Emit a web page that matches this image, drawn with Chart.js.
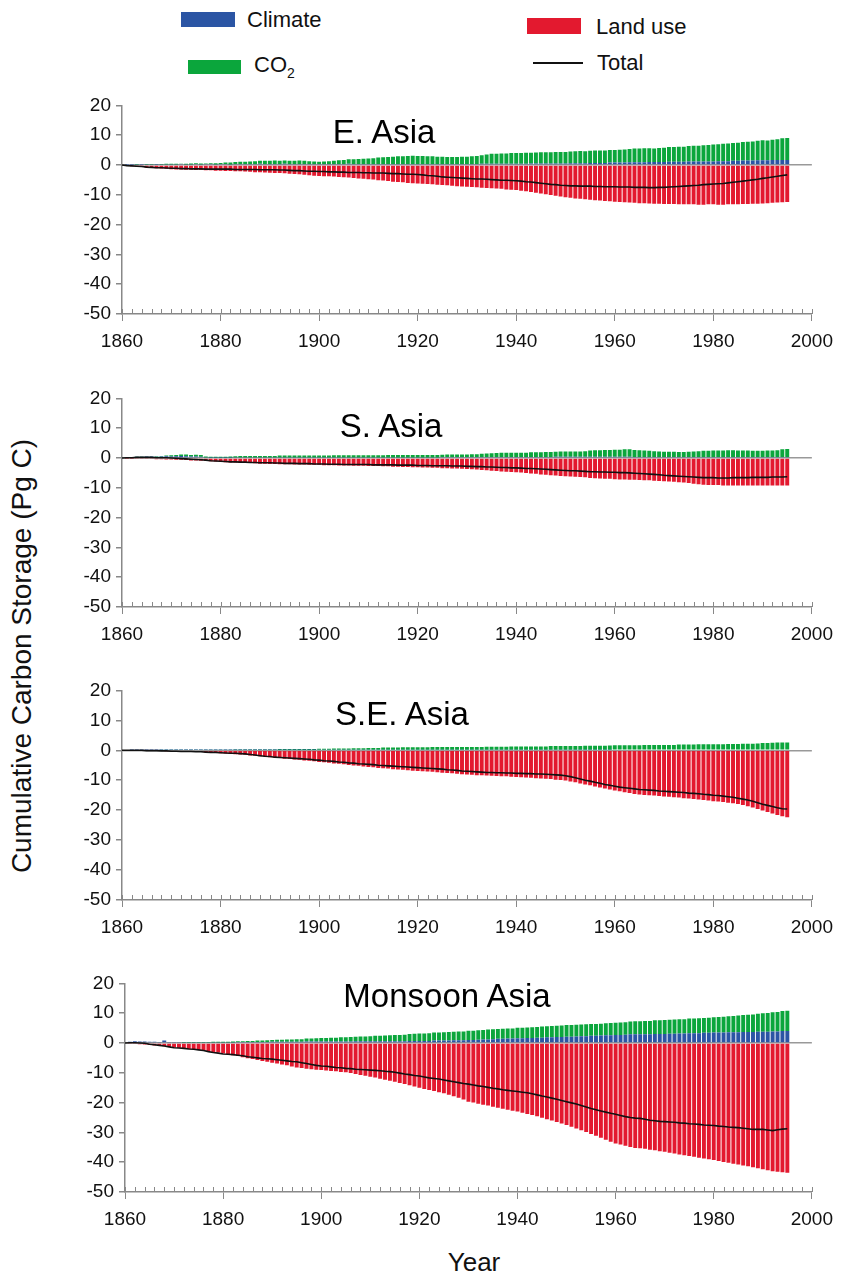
<!DOCTYPE html>
<html>
<head>
<meta charset="utf-8">
<script src="https://cdn.jsdelivr.net/npm/chart.js@4.4.1/dist/chart.umd.min.js"></script>
<style>
  body { margin: 0; background: #fff; font-family: 'Liberation Sans', Arial, Helvetica, sans-serif; }
  #page { position: relative; width: 842px; height: 1273px; overflow: hidden; background: #fff; }
  canvas { position: absolute; left: 0; }
  .lab { position: absolute; white-space: nowrap; color: #111; line-height: 1; }
  .leg { font-size: 22px; transform: translateY(-50%); }
  .title { font-size: 33px; transform: translate(-50%, -50%); color: #000; }
  .sw { position: absolute; }
</style>
</head>
<body>
<div id="page">
  <div class="sw" style="left:181px;top:12px;width:54px;height:15px;background:#2b55a4"></div>
  <div class="lab leg" style="left:247px;top:20px">Climate</div>
  <div class="sw" style="left:188px;top:60px;width:53px;height:14px;background:#0ba63c"></div>
  <div class="lab leg" style="left:254px;top:67px">CO<sub style="font-size:14px;vertical-align:-6px">2</sub></div>
  <div class="sw" style="left:527px;top:18px;width:54px;height:16px;background:#e3192f"></div>
  <div class="lab leg" style="left:596px;top:27px">Land use</div>
  <div class="sw" style="left:533px;top:62px;width:50px;height:1.5px;background:#111"></div>
  <div class="lab leg" style="left:597px;top:63px">Total</div>
  <div class="lab" style="left:22px;top:656px;font-size:28px;transform:translate(-50%,-50%) rotate(-90deg)">Cumulative Carbon Storage (Pg C)</div>
  <div class="lab" style="left:474px;top:1262px;font-size:26px;transform:translate(-50%,-50%)">Year</div>
</div>
<script>
// years 1860..1995, one bar per year
const years = Array.from({length: 136}, (_, i) => 1860 + i);
const xTickLabels = [1860, 1880, 1900, 1920, 1940, 1960, 1980, 2000];
const yTickLabels = [20, 10, 0, -10, -20, -30, -40, -50];

// E. Asia
const eAsiaClimate = [0,0.1,0.1,0.2,0.1,0.2,0.2,0.1,0.2,0.2,
  0.2,0.2,0.3,0.2,0.2,0.3,0.2,0.3,0.3,0.2,
  0.3,0.3,0.2,0.3,0.3,0.3,0.3,0.3,0.4,0.3,
  0.3,0.3,0.3,0.4,0.3,0.3,0.3,0.3,0.3,0.3,
  0.3,0.3,0.3,0.3,0.3,0.3,0.4,0.3,0.3,0.3,
  0.3,0.3,0.3,0.3,0.3,0.3,0.3,0.3,0.3,0.3,
  0.3,0.3,0.3,0.3,0.3,0.3,0.3,0.3,0.3,0.3,
  0.3,0.3,0.3,0.4,0.4,0.4,0.4,0.4,0.4,0.4,
  0.4,0.4,0.4,0.5,0.5,0.5,0.5,0.5,0.5,0.5,
  0.5,0.6,0.6,0.6,0.6,0.7,0.7,0.7,0.7,0.8,
  0.8,0.8,0.8,0.9,0.9,0.9,0.9,1.0,1.0,1.0,
  1.0,1.1,1.1,1.1,1.1,1.2,1.2,1.2,1.2,1.2,
  1.2,1.3,1.3,1.3,1.4,1.4,1.5,1.5,1.5,1.6,
  1.6,1.6,1.7,1.7,1.7,1.7];
const eAsiaCO2 = [0,0,0,0.1,0,0.1,0.1,0.1,0.1,0.2,
  0.2,0.2,0.1,0.2,0.3,0.3,0.3,0.2,0.3,0.4,
  0.4,0.5,0.6,0.7,0.8,0.8,0.9,1.0,1.0,1.1,
  1.1,1.2,1.1,1.1,1.1,1.1,1.2,1.1,1.0,0.9,
  0.8,0.9,1.0,1.1,1.3,1.4,1.5,1.6,1.7,1.8,
  1.9,2.0,2.2,2.3,2.4,2.5,2.6,2.6,2.7,2.8,
  2.7,2.7,2.6,2.6,2.5,2.5,2.4,2.4,2.4,2.5,
  2.5,2.6,2.7,2.9,3.1,3.4,3.4,3.5,3.5,3.6,
  3.6,3.6,3.7,3.6,3.7,3.8,3.8,3.8,3.9,3.9,
  3.9,3.9,4.0,4.1,4.0,4.1,4.2,4.2,4.2,4.2,
  4.2,4.3,4.4,4.5,4.6,4.6,4.7,4.6,4.5,4.7,
  4.8,4.9,4.9,5.0,5.0,5.2,5.3,5.3,5.4,5.5,
  5.7,5.7,5.8,5.9,6.0,6.1,6.2,6.3,6.4,6.5,
  6.7,6.6,6.8,6.9,7.3,7.4];
const eAsiaLand = [0,-0.3,-0.4,-0.6,-0.7,-0.9,-1.0,-1.1,-1.2,-1.3,
  -1.4,-1.5,-1.5,-1.6,-1.6,-1.7,-1.7,-1.8,-1.8,-1.9,
  -1.9,-2.0,-2.0,-2.1,-2.1,-2.2,-2.3,-2.4,-2.4,-2.5,
  -2.6,-2.7,-2.7,-2.8,-2.9,-3.0,-3.1,-3.3,-3.4,-3.6,
  -3.7,-3.8,-3.8,-3.9,-4.0,-4.1,-4.2,-4.4,-4.5,-4.6,
  -4.8,-4.9,-5.1,-5.2,-5.4,-5.6,-5.7,-5.8,-6.0,-6.1,
  -6.2,-6.3,-6.4,-6.5,-6.6,-6.7,-6.8,-7.0,-7.1,-7.2,
  -7.3,-7.4,-7.5,-7.6,-7.7,-7.8,-7.9,-8.0,-8.2,-8.3,
  -8.4,-8.6,-8.8,-9.1,-9.3,-9.6,-9.8,-10.1,-10.3,-10.6,
  -10.8,-11.0,-11.2,-11.3,-11.5,-11.7,-11.8,-11.9,-12.1,-12.2,
  -12.3,-12.4,-12.5,-12.6,-12.7,-12.8,-12.8,-12.9,-13.0,-13.0,
  -13.1,-13.1,-13.1,-13.2,-13.2,-13.2,-13.2,-13.3,-13.3,-13.2,
  -13.2,-13.3,-13.3,-13.2,-13.2,-13.2,-13.1,-13.1,-13.0,-13.0,
  -12.9,-12.8,-12.7,-12.6,-12.5,-12.4];
const eAsiaTotal = [0,-0.2,-0.3,-0.4,-0.5,-0.7,-0.8,-0.9,-0.9,-1.0,
  -1.1,-1.1,-1.2,-1.2,-1.3,-1.3,-1.3,-1.4,-1.4,-1.4,
  -1.4,-1.4,-1.4,-1.5,-1.5,-1.5,-1.5,-1.5,-1.6,-1.6,
  -1.6,-1.6,-1.7,-1.7,-1.8,-1.9,-1.9,-2.0,-2.1,-2.1,
  -2.2,-2.2,-2.3,-2.3,-2.4,-2.4,-2.5,-2.5,-2.5,-2.6,
  -2.6,-2.7,-2.7,-2.7,-2.8,-2.9,-2.9,-3.0,-3.1,-3.1,
  -3.2,-3.3,-3.5,-3.6,-3.8,-4.0,-4.1,-4.2,-4.3,-4.4,
  -4.5,-4.6,-4.7,-4.7,-4.8,-4.9,-5.0,-5.1,-5.1,-5.2,
  -5.3,-5.4,-5.6,-5.7,-5.9,-6.1,-6.3,-6.5,-6.6,-6.8,
  -6.9,-7.0,-7.0,-7.1,-7.1,-7.1,-7.2,-7.2,-7.3,-7.3,
  -7.3,-7.4,-7.4,-7.4,-7.5,-7.5,-7.5,-7.6,-7.6,-7.5,
  -7.5,-7.4,-7.3,-7.2,-7.1,-7.0,-6.9,-6.8,-6.6,-6.5,
  -6.4,-6.3,-6.2,-6.0,-5.8,-5.6,-5.4,-5.2,-5.0,-4.8,
  -4.5,-4.3,-4.0,-3.8,-3.5,-3.3];

// S. Asia
const sAsiaClimate = [0,0.2,0.3,0.4,0.4,0.5,0.5,0.4,0.5,0.6,
  0.5,0.6,0.7,0.6,0.5,0.5,0.4,0.2,0.1,0.1,
  0.1,0.1,0.1,0.2,0.2,0.2,0.2,0.2,0.2,0.2,
  0.2,0.2,0.2,0.2,0.2,0.2,0.2,0.2,0.2,0.2,
  0.2,0.2,0.2,0.2,0.2,0.2,0.2,0.2,0.2,0.2,
  0.2,0.2,0.2,0.2,0.2,0.2,0.2,0.2,0.2,0.2,
  0.2,0.2,0.2,0.2,0.2,0.3,0.3,0.3,0.3,0.3,
  0.3,0.3,0.3,0.3,0.3,0.3,0.3,0.3,0.3,0.3,
  0.3,0.3,0.3,0.3,0.3,0.3,0.3,0.3,0.4,0.4,
  0.4,0.4,0.4,0.4,0.4,0.4,0.4,0.4,0.4,0.4,
  0.4,0.4,0.4,0.4,0.3,0.3,0.3,0.3,0.3,0.3,
  0.3,0.3,0.3,0.3,0.3,0.3,0.3,0.3,0.3,0.3,
  0.3,0.3,0.3,0.3,0.3,0.3,0.3,0.3,0.3,0.3,
  0.3,0.3,0.3,0.3,0.3,0.3];
const sAsiaCO2 = [0,0,0,0.1,0.1,0.1,0.1,0.2,0.2,0.2,
  0.4,0.4,0.5,0.6,0.5,0.6,0.6,0.3,0.3,0.3,
  0.3,0.3,0.4,0.4,0.5,0.5,0.5,0.5,0.5,0.5,
  0.5,0.5,0.6,0.6,0.6,0.6,0.6,0.6,0.6,0.6,
  0.6,0.6,0.6,0.7,0.7,0.7,0.7,0.7,0.7,0.7,
  0.7,0.7,0.7,0.7,0.8,0.8,0.8,0.8,0.8,0.8,
  0.8,0.8,0.8,0.8,0.8,0.8,0.9,0.9,0.9,0.9,
  0.9,1.0,1.0,1.1,1.2,1.3,1.4,1.5,1.5,1.5,
  1.5,1.5,1.5,1.6,1.6,1.6,1.7,1.7,1.7,1.8,
  1.8,1.8,1.8,1.8,1.9,2.1,2.2,2.2,2.3,2.3,
  2.4,2.4,2.5,2.5,2.4,2.3,2.2,2.1,2.0,1.9,
  1.8,1.8,1.8,1.7,1.7,1.8,1.9,2.0,2.1,2.1,
  2.2,2.2,2.2,2.3,2.3,2.2,2.2,2.2,2.1,2.1,
  2.1,2.2,2.2,2.3,2.6,2.7];
const sAsiaLand = [0,-0.1,-0.1,-0.2,-0.2,-0.3,-0.3,-0.4,-0.4,-0.5,
  -0.5,-0.6,-0.6,-0.7,-0.8,-0.8,-0.9,-1.0,-1.1,-1.2,
  -1.3,-1.4,-1.5,-1.5,-1.6,-1.7,-1.7,-1.8,-1.9,-1.9,
  -2.0,-2.0,-2.1,-2.1,-2.1,-2.2,-2.2,-2.2,-2.3,-2.3,
  -2.3,-2.4,-2.4,-2.4,-2.5,-2.5,-2.5,-2.6,-2.6,-2.6,
  -2.7,-2.7,-2.7,-2.8,-2.8,-2.9,-2.9,-3.0,-3.0,-3.1,
  -3.1,-3.2,-3.2,-3.3,-3.3,-3.4,-3.4,-3.5,-3.5,-3.6,
  -3.7,-3.8,-3.9,-4.0,-4.1,-4.3,-4.4,-4.5,-4.6,-4.7,
  -4.8,-4.9,-5.0,-5.2,-5.3,-5.5,-5.6,-5.8,-5.9,-6.0,
  -6.1,-6.2,-6.3,-6.4,-6.5,-6.7,-6.8,-6.9,-7.0,-7.0,
  -7.1,-7.2,-7.2,-7.3,-7.3,-7.4,-7.5,-7.5,-7.6,-7.7,
  -7.8,-7.9,-8.0,-8.1,-8.2,-8.4,-8.6,-8.8,-9.0,-9.1,
  -9.1,-9.1,-9.2,-9.2,-9.2,-9.2,-9.2,-9.2,-9.2,-9.2,
  -9.2,-9.2,-9.2,-9.2,-9.2,-9.2];
const sAsiaTotal = [0,0.1,0.1,0.2,0.2,0.2,0.2,0.1,0.1,0.1,
  0.0,-0.1,-0.2,-0.3,-0.4,-0.5,-0.6,-0.7,-0.9,-1.0,
  -1.1,-1.2,-1.3,-1.3,-1.4,-1.4,-1.5,-1.5,-1.6,-1.6,
  -1.6,-1.7,-1.7,-1.8,-1.8,-1.8,-1.9,-1.9,-1.9,-2.0,
  -2.0,-2.0,-2.1,-2.1,-2.1,-2.2,-2.2,-2.2,-2.2,-2.2,
  -2.2,-2.3,-2.3,-2.3,-2.3,-2.3,-2.4,-2.4,-2.4,-2.4,
  -2.5,-2.5,-2.5,-2.6,-2.6,-2.6,-2.6,-2.7,-2.7,-2.7,
  -2.8,-2.8,-2.9,-2.9,-3.0,-3.0,-3.1,-3.2,-3.2,-3.3,
  -3.3,-3.4,-3.5,-3.5,-3.6,-3.7,-3.8,-3.9,-4.0,-4.1,
  -4.2,-4.3,-4.3,-4.4,-4.5,-4.6,-4.6,-4.7,-4.7,-4.8,
  -4.8,-4.9,-4.9,-5.0,-5.1,-5.2,-5.3,-5.4,-5.5,-5.6,
  -5.8,-5.9,-6.0,-6.1,-6.2,-6.3,-6.4,-6.5,-6.6,-6.6,
  -6.6,-6.7,-6.7,-6.7,-6.6,-6.6,-6.6,-6.6,-6.5,-6.5,
  -6.5,-6.5,-6.4,-6.4,-6.4,-6.3];

// S.E. Asia
const seAsiaClimate = [0,0,0.1,0.1,0.1,0.1,0.1,0.1,0.1,0.1,
  0.1,0.1,0.1,0.1,0.1,0.1,0.1,0.1,0.1,0.1,
  0.1,0.1,0.1,0.1,0.1,0.1,0.1,0.1,0.1,0.1,
  0.1,0.1,0.1,0.1,0.1,0.1,0.1,0.1,0.1,0.1,
  0.2,0.2,0.2,0.2,0.2,0.2,0.2,0.2,0.2,0.2,
  0.2,0.2,0.2,0.2,0.2,0.2,0.2,0.2,0.2,0.2,
  0.2,0.2,0.2,0.2,0.2,0.2,0.2,0.2,0.2,0.2,
  0.2,0.2,0.2,0.2,0.2,0.2,0.2,0.2,0.2,0.2,
  0.2,0.2,0.2,0.2,0.2,0.2,0.2,0.2,0.2,0.2,
  0.2,0.2,0.2,0.2,0.2,0.2,0.2,0.2,0.2,0.2,
  0.3,0.3,0.3,0.3,0.3,0.3,0.3,0.3,0.3,0.3,
  0.3,0.3,0.3,0.3,0.3,0.3,0.3,0.3,0.3,0.3,
  0.3,0.3,0.3,0.3,0.3,0.3,0.3,0.3,0.3,0.3,
  0.3,0.3,0.3,0.3,0.3,0.3];
const seAsiaCO2 = [0,0,0,0,0,0,0,0,0.1,0.1,
  0.1,0.1,0.1,0.1,0.1,0.1,0.1,0.1,0.1,0.1,
  0.1,0.1,0.1,0.2,0.2,0.2,0.2,0.2,0.2,0.2,
  0.2,0.2,0.3,0.3,0.3,0.3,0.3,0.3,0.3,0.3,
  0.3,0.3,0.3,0.4,0.4,0.4,0.4,0.5,0.5,0.5,
  0.6,0.6,0.6,0.7,0.7,0.7,0.7,0.8,0.8,0.8,
  0.8,0.8,0.8,0.9,0.9,0.9,0.9,0.9,0.9,0.9,
  0.9,0.9,0.9,0.9,1.0,1.0,1.0,1.0,1.0,1.1,
  1.1,1.1,1.1,1.1,1.1,1.1,1.1,1.2,1.2,1.2,
  1.2,1.2,1.2,1.2,1.3,1.3,1.3,1.3,1.3,1.4,
  1.4,1.4,1.4,1.4,1.4,1.4,1.5,1.5,1.5,1.5,
  1.5,1.5,1.5,1.6,1.6,1.6,1.6,1.7,1.7,1.7,
  1.7,1.7,1.7,1.8,1.8,1.8,1.9,1.9,1.9,2.0,
  2.1,2.1,2.2,2.3,2.3,2.3];
const seAsiaLand = [0,0,0,-0.1,-0.1,-0.1,-0.1,-0.2,-0.2,-0.3,
  -0.3,-0.4,-0.4,-0.5,-0.5,-0.6,-0.6,-0.7,-0.8,-0.9,
  -1.0,-1.1,-1.2,-1.3,-1.4,-1.5,-1.7,-1.8,-2.0,-2.1,
  -2.3,-2.5,-2.6,-2.8,-2.9,-3.1,-3.2,-3.4,-3.5,-3.7,
  -3.9,-4.0,-4.2,-4.4,-4.5,-4.7,-4.9,-5.1,-5.2,-5.4,
  -5.6,-5.7,-5.9,-6.0,-6.1,-6.3,-6.4,-6.5,-6.7,-6.8,
  -6.9,-7.0,-7.1,-7.2,-7.3,-7.5,-7.6,-7.7,-7.8,-8.0,
  -8.1,-8.2,-8.3,-8.3,-8.4,-8.5,-8.6,-8.7,-8.7,-8.8,
  -8.9,-9.0,-9.1,-9.2,-9.3,-9.4,-9.5,-9.6,-9.8,-9.9,
  -10.1,-10.4,-10.7,-11.1,-11.4,-11.7,-12.1,-12.4,-12.8,-13.1,
  -13.4,-13.7,-14.0,-14.3,-14.6,-14.8,-14.9,-15.0,-15.1,-15.3,
  -15.4,-15.5,-15.7,-15.8,-16.0,-16.1,-16.3,-16.4,-16.6,-16.8,
  -17.0,-17.1,-17.3,-17.5,-17.7,-17.9,-18.3,-18.7,-19.1,-19.6,
  -20.1,-20.6,-21.1,-21.6,-22.0,-22.4];
const seAsiaTotal = [0,0,0,0,0,-0.1,-0.1,-0.1,-0.2,-0.2,
  -0.3,-0.3,-0.4,-0.4,-0.4,-0.5,-0.5,-0.6,-0.7,-0.7,
  -0.8,-0.9,-1.0,-1.0,-1.1,-1.2,-1.4,-1.6,-1.8,-2.0,
  -2.1,-2.3,-2.4,-2.5,-2.6,-2.7,-2.8,-2.9,-3.0,-3.2,
  -3.3,-3.5,-3.6,-3.7,-3.9,-4.0,-4.2,-4.3,-4.5,-4.6,
  -4.7,-4.8,-5.0,-5.1,-5.2,-5.3,-5.4,-5.5,-5.6,-5.7,
  -5.8,-5.9,-6.0,-6.1,-6.2,-6.3,-6.5,-6.6,-6.7,-6.9,
  -7.0,-7.1,-7.2,-7.3,-7.4,-7.4,-7.5,-7.5,-7.6,-7.6,
  -7.7,-7.7,-7.8,-7.8,-7.9,-7.9,-8.0,-8.1,-8.2,-8.3,
  -8.5,-8.8,-9.2,-9.6,-10.0,-10.3,-10.7,-11.0,-11.4,-11.7,
  -12.0,-12.3,-12.5,-12.7,-12.9,-13.1,-13.2,-13.3,-13.4,-13.6,
  -13.7,-13.8,-13.9,-14.0,-14.1,-14.3,-14.4,-14.5,-14.7,-14.8,
  -15.0,-15.1,-15.3,-15.5,-15.7,-16.0,-16.3,-16.6,-17.0,-17.5,
  -18.0,-18.4,-18.8,-19.2,-19.5,-19.6];

// Monsoon Asia
const mAsiaClimate = [0,0.4,0.6,0.5,0.5,0.4,0.4,0.3,0.8,0.2,
  0.2,0.2,0.2,0.2,0.2,0.2,0.2,0.2,0.2,0.2,
  0.2,0.2,0.2,0.3,0.3,0.3,0.3,0.3,0.3,0.3,
  0.4,0.4,0.4,0.4,0.4,0.4,0.4,0.5,0.5,0.5,
  0.5,0.5,0.5,0.5,0.5,0.5,0.5,0.6,0.6,0.6,
  0.6,0.6,0.6,0.6,0.6,0.6,0.6,0.6,0.7,0.7,
  0.7,0.7,0.7,0.8,0.8,0.8,0.8,0.9,0.9,0.9,
  1.0,1.0,1.1,1.2,1.2,1.3,1.4,1.4,1.5,1.5,
  1.6,1.6,1.7,1.7,1.8,1.8,1.9,1.9,2.0,2.0,
  2.1,2.1,2.2,2.3,2.3,2.4,2.4,2.5,2.6,2.6,
  2.7,2.7,2.8,2.9,2.9,2.9,2.9,2.9,3.0,3.0,
  3.0,3.1,3.1,3.2,3.2,3.3,3.3,3.3,3.4,3.4,
  3.5,3.5,3.5,3.6,3.6,3.6,3.7,3.7,3.7,3.8,
  3.8,3.8,3.9,3.9,4.0,4.0];
const mAsiaCO2 = [0,0,0,0,0,0,0,0,0,0,
  0,0,0.1,0.1,0.1,0.1,0.1,0.1,0.2,0.2,
  0.2,0.2,0.3,0.3,0.3,0.4,0.4,0.5,0.5,0.6,
  0.6,0.7,0.7,0.8,0.8,0.9,0.9,1.0,1.0,1.1,
  1.2,1.2,1.3,1.3,1.4,1.4,1.5,1.5,1.6,1.6,
  1.7,1.8,1.8,1.9,2.0,2.1,2.1,2.2,2.3,2.4,
  2.5,2.5,2.6,2.7,2.7,2.8,2.9,2.9,3.0,3.0,
  3.1,3.1,3.2,3.2,3.3,3.3,3.3,3.4,3.4,3.4,
  3.5,3.5,3.5,3.6,3.6,3.7,3.7,3.8,3.8,3.9,
  3.9,3.9,3.9,3.9,4.0,4.0,4.0,4.0,4.0,4.1,
  4.1,4.2,4.2,4.3,4.4,4.4,4.5,4.5,4.6,4.6,
  4.7,4.7,4.8,4.8,4.8,4.9,4.9,5.0,5.0,5.1,
  5.1,5.2,5.3,5.4,5.5,5.6,5.7,5.8,5.9,6.0,
  6.2,6.3,6.4,6.5,6.7,6.8];
const mAsiaLand = [0,-0.2,-0.3,-0.4,-0.5,-0.7,-0.8,-0.9,-1.1,-1.3,
  -1.5,-1.6,-1.8,-2.0,-2.1,-2.3,-2.5,-2.8,-3.0,-3.2,
  -3.5,-3.8,-4.1,-4.4,-4.8,-5.1,-5.4,-5.7,-6.0,-6.3,
  -6.6,-6.9,-7.2,-7.5,-7.9,-8.2,-8.4,-8.6,-8.8,-9.0,
  -9.1,-9.2,-9.4,-9.5,-9.7,-9.8,-10.1,-10.4,-10.7,-11.0,
  -11.3,-11.6,-12.0,-12.3,-12.7,-13.0,-13.4,-13.8,-14.2,-14.6,
  -15.0,-15.4,-15.8,-16.1,-16.5,-16.9,-17.4,-17.9,-18.4,-19.0,
  -19.7,-20.0,-20.4,-20.7,-21.0,-21.4,-21.7,-22.1,-22.4,-22.7,
  -23.0,-23.4,-23.8,-24.2,-24.6,-25.1,-25.6,-26.0,-26.5,-27.0,
  -27.5,-28.1,-28.7,-29.3,-29.9,-30.5,-31.1,-31.8,-32.5,-33.1,
  -33.7,-34.1,-34.5,-34.9,-35.2,-35.3,-35.5,-35.8,-36.0,-36.3,
  -36.5,-36.8,-37.1,-37.4,-37.7,-37.9,-38.2,-38.5,-38.8,-39.0,
  -39.3,-39.6,-39.9,-40.2,-40.5,-40.8,-41.1,-41.4,-41.7,-42.0,
  -42.4,-42.7,-43.0,-43.2,-43.4,-43.5];
const mAsiaTotal = [0,0.1,0.1,0,-0.1,-0.4,-0.6,-0.8,-1.0,-1.3,
  -1.6,-1.7,-1.8,-2.0,-2.1,-2.3,-2.5,-2.9,-3.2,-3.4,
  -3.7,-3.8,-3.9,-4.1,-4.3,-4.6,-4.8,-5.0,-5.2,-5.3,
  -5.4,-5.6,-5.8,-6.0,-6.2,-6.3,-6.6,-6.9,-7.2,-7.5,
  -7.7,-7.8,-8.0,-8.2,-8.3,-8.5,-8.6,-8.8,-8.9,-9.0,
  -9.1,-9.2,-9.3,-9.5,-9.6,-9.8,-10.1,-10.4,-10.6,-10.9,
  -11.1,-11.4,-11.7,-11.9,-12.1,-12.4,-12.7,-13.0,-13.3,-13.6,
  -13.8,-14.1,-14.4,-14.6,-14.9,-15.2,-15.4,-15.7,-15.9,-16.1,
  -16.3,-16.5,-16.7,-17.0,-17.4,-17.8,-18.1,-18.5,-18.9,-19.3,
  -19.7,-20.1,-20.5,-21.0,-21.5,-22.0,-22.4,-22.8,-23.2,-23.6,
  -23.9,-24.3,-24.7,-25.0,-25.2,-25.3,-25.6,-25.9,-26.1,-26.3,
  -26.4,-26.5,-26.6,-26.8,-26.9,-27.1,-27.2,-27.3,-27.5,-27.6,
  -27.7,-27.9,-28.0,-28.2,-28.3,-28.4,-28.6,-28.8,-29.0,-29.0,
  -29.0,-29.2,-29.4,-29.1,-28.9,-28.8];

const panels = [
  { title: 'E. Asia', climate: eAsiaClimate, co2: eAsiaCO2, land: eAsiaLand, total: eAsiaTotal,
    top: 89, height: 262, padLeft: 72, padRight: 24, tx: 384, ty: 131 },
  { title: 'S. Asia', climate: sAsiaClimate, co2: sAsiaCO2, land: sAsiaLand, total: sAsiaTotal,
    top: 382, height: 262, padLeft: 72, padRight: 24, tx: 391, ty: 425 },
  { title: 'S.E. Asia', climate: seAsiaClimate, co2: seAsiaCO2, land: seAsiaLand, total: seAsiaTotal,
    top: 674, height: 263, padLeft: 72, padRight: 25, tx: 402, ty: 713 },
  { title: 'Monsoon Asia', climate: mAsiaClimate, co2: mAsiaCO2, land: mAsiaLand, total: mAsiaTotal,
    top: 967, height: 262, padLeft: 75, padRight: 21, tx: 447, ty: 995 }
];

Chart.defaults.font.family = "'Liberation Sans', Arial, Helvetica, sans-serif";
Chart.defaults.color = '#111';

// small tick marks pointing up into the plot along the year axis
const innerTicks = {
  id: 'innerTicks',
  afterDraw(chart) {
    const xs = chart.scales.x, c = chart.ctx, y0 = chart.chartArea.bottom;
    c.save();
    c.strokeStyle = '#888';
    c.lineWidth = 1;
    xs.ticks.forEach(t => {
      const px = Math.round(xs.getPixelForValue(t.value)) + 0.5;
      c.beginPath();
      c.moveTo(px, y0);
      c.lineTo(px, y0 - 5);
      c.stroke();
    });
    c.restore();
  }
};

const page = document.getElementById('page');

panels.forEach((p, i) => {
  const cv = document.createElement('canvas');
  cv.width = 842;
  cv.height = p.height;
  cv.style.top = p.top + 'px';
  page.appendChild(cv);

  const t = document.createElement('div');
  t.className = 'lab title';
  t.style.left = p.tx + 'px';
  t.style.top = p.ty + 'px';
  t.textContent = p.title;
  page.appendChild(t);

  new Chart(cv.getContext('2d'), {
    type: 'bar',
    data: {
      labels: years,
      datasets: [
        { type: 'line', label: 'Total', data: p.total, borderColor: '#111', borderWidth: 1.6,
          pointRadius: 0, fill: false, tension: 0, stack: 'total', order: 0 },
        { label: 'Climate', data: p.climate, backgroundColor: '#2b55a4', stack: 'bars', order: 1 },
        { label: 'CO2', data: p.co2, backgroundColor: '#0ba63c', stack: 'bars', order: 1 },
        { label: 'Land use', data: p.land, backgroundColor: '#e3192f', stack: 'bars', order: 1 }
      ]
    },
    options: {
      responsive: false,
      animation: false,
      devicePixelRatio: 1,
      barPercentage: 0.8,
      categoryPercentage: 1.0,
      layout: { padding: { left: p.padLeft, right: p.padRight, top: 10, bottom: 0 } },
      plugins: { legend: { display: false }, tooltip: { enabled: false } },
      scales: {
        x: {
          type: 'linear',
          stacked: true,
          offset: false,
          min: xTickLabels[0],
          max: xTickLabels[xTickLabels.length - 1],
          afterFit: s => { s.height = 37; },
          border: { color: '#888', width: 1.5 },
          grid: {
            offset: false,
            drawOnChartArea: false,
            tickLength: 7,
            color: c => (c.tick && xTickLabels.includes(c.tick.value)) ? '#888' : 'rgba(0,0,0,0)'
          },
          ticks: {
            stepSize: 2,
            autoSkip: false,
            maxRotation: 0,
            padding: 9,
            font: { size: 19 },
            callback: v => xTickLabels.includes(v) ? String(v) : ''
          }
        },
        y: {
          stacked: true,
          min: yTickLabels[yTickLabels.length - 1],
          max: yTickLabels[0],
          afterFit: s => { s.width = 50; },
          border: { color: '#888', width: 1.5 },
          grid: {
            tickLength: 6,
            tickColor: '#888',
            lineWidth: 1.5,
            color: c => (c.tick && c.tick.value === 0) ? '#999' : 'rgba(0,0,0,0)'
          },
          ticks: {
            stepSize: 10,
            padding: 5,
            font: { size: 19 },
            callback: v => yTickLabels.includes(v) ? String(v) : ''
          }
        }
      }
    },
    plugins: [innerTicks]
  });
});
</script>
</body>
</html>
